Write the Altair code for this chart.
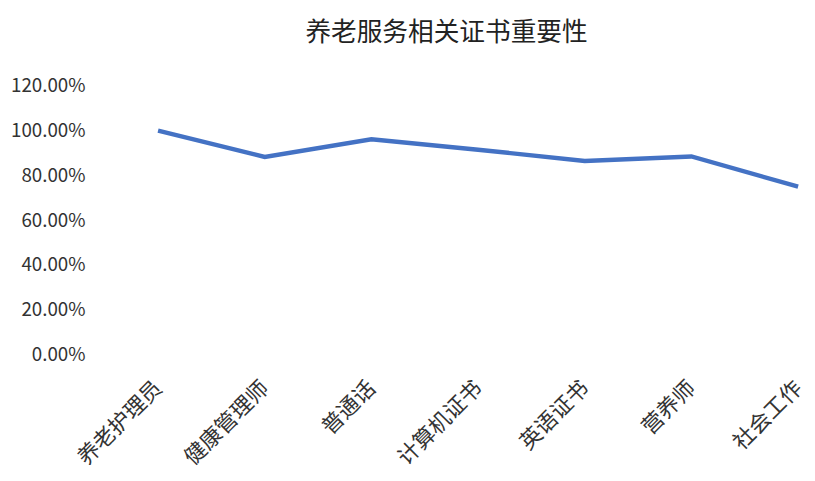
import altair as alt
import pandas as pd

categories = ["养老护理员", "健康管理师", "普通话", "计算机证书", "英语证书", "营养师", "社会工作"]
values = [1.00, 0.883, 0.962, 0.915, 0.865, 0.885, 0.75]

df = pd.DataFrame({"cat": categories, "val": values})

FONT = "Noto Sans CJK SC"

chart = alt.Chart(df).mark_line(color="#4472C4", strokeWidth=4.5).encode(
    x=alt.X("cat:N", sort=categories, title=None,
            scale=alt.Scale(padding=0.296, align=1),
            axis=alt.Axis(labelAngle=-45, labelFontSize=22, labelColor="#333333",
                          labelFont=FONT, domain=False, ticks=False, labelPadding=30,
                          labelAlign="right", labelBaseline="middle")),
    y=alt.Y("val:Q", title=None,
            scale=alt.Scale(domain=[0, 1.2], nice=False),
            axis=alt.Axis(values=[0, 0.2, 0.4, 0.6, 0.8, 1.0, 1.2], format=".2%",
                          labelFontSize=19, labelColor="#333333", labelFont=FONT,
                          domain=False, ticks=False, grid=False, labelPadding=10)),
).properties(
    width=712, height=272,
    padding={"left": 2, "top": 10, "right": 0, "bottom": 0},
    title=alt.TitleParams("养老服务相关证书重要性", fontSize=26, font=FONT,
                          fontWeight="normal", color="#222222", offset=31),
).configure_view(stroke=None)

chart.save("out.html", embed_options={"renderer": "svg", "actions": False})
